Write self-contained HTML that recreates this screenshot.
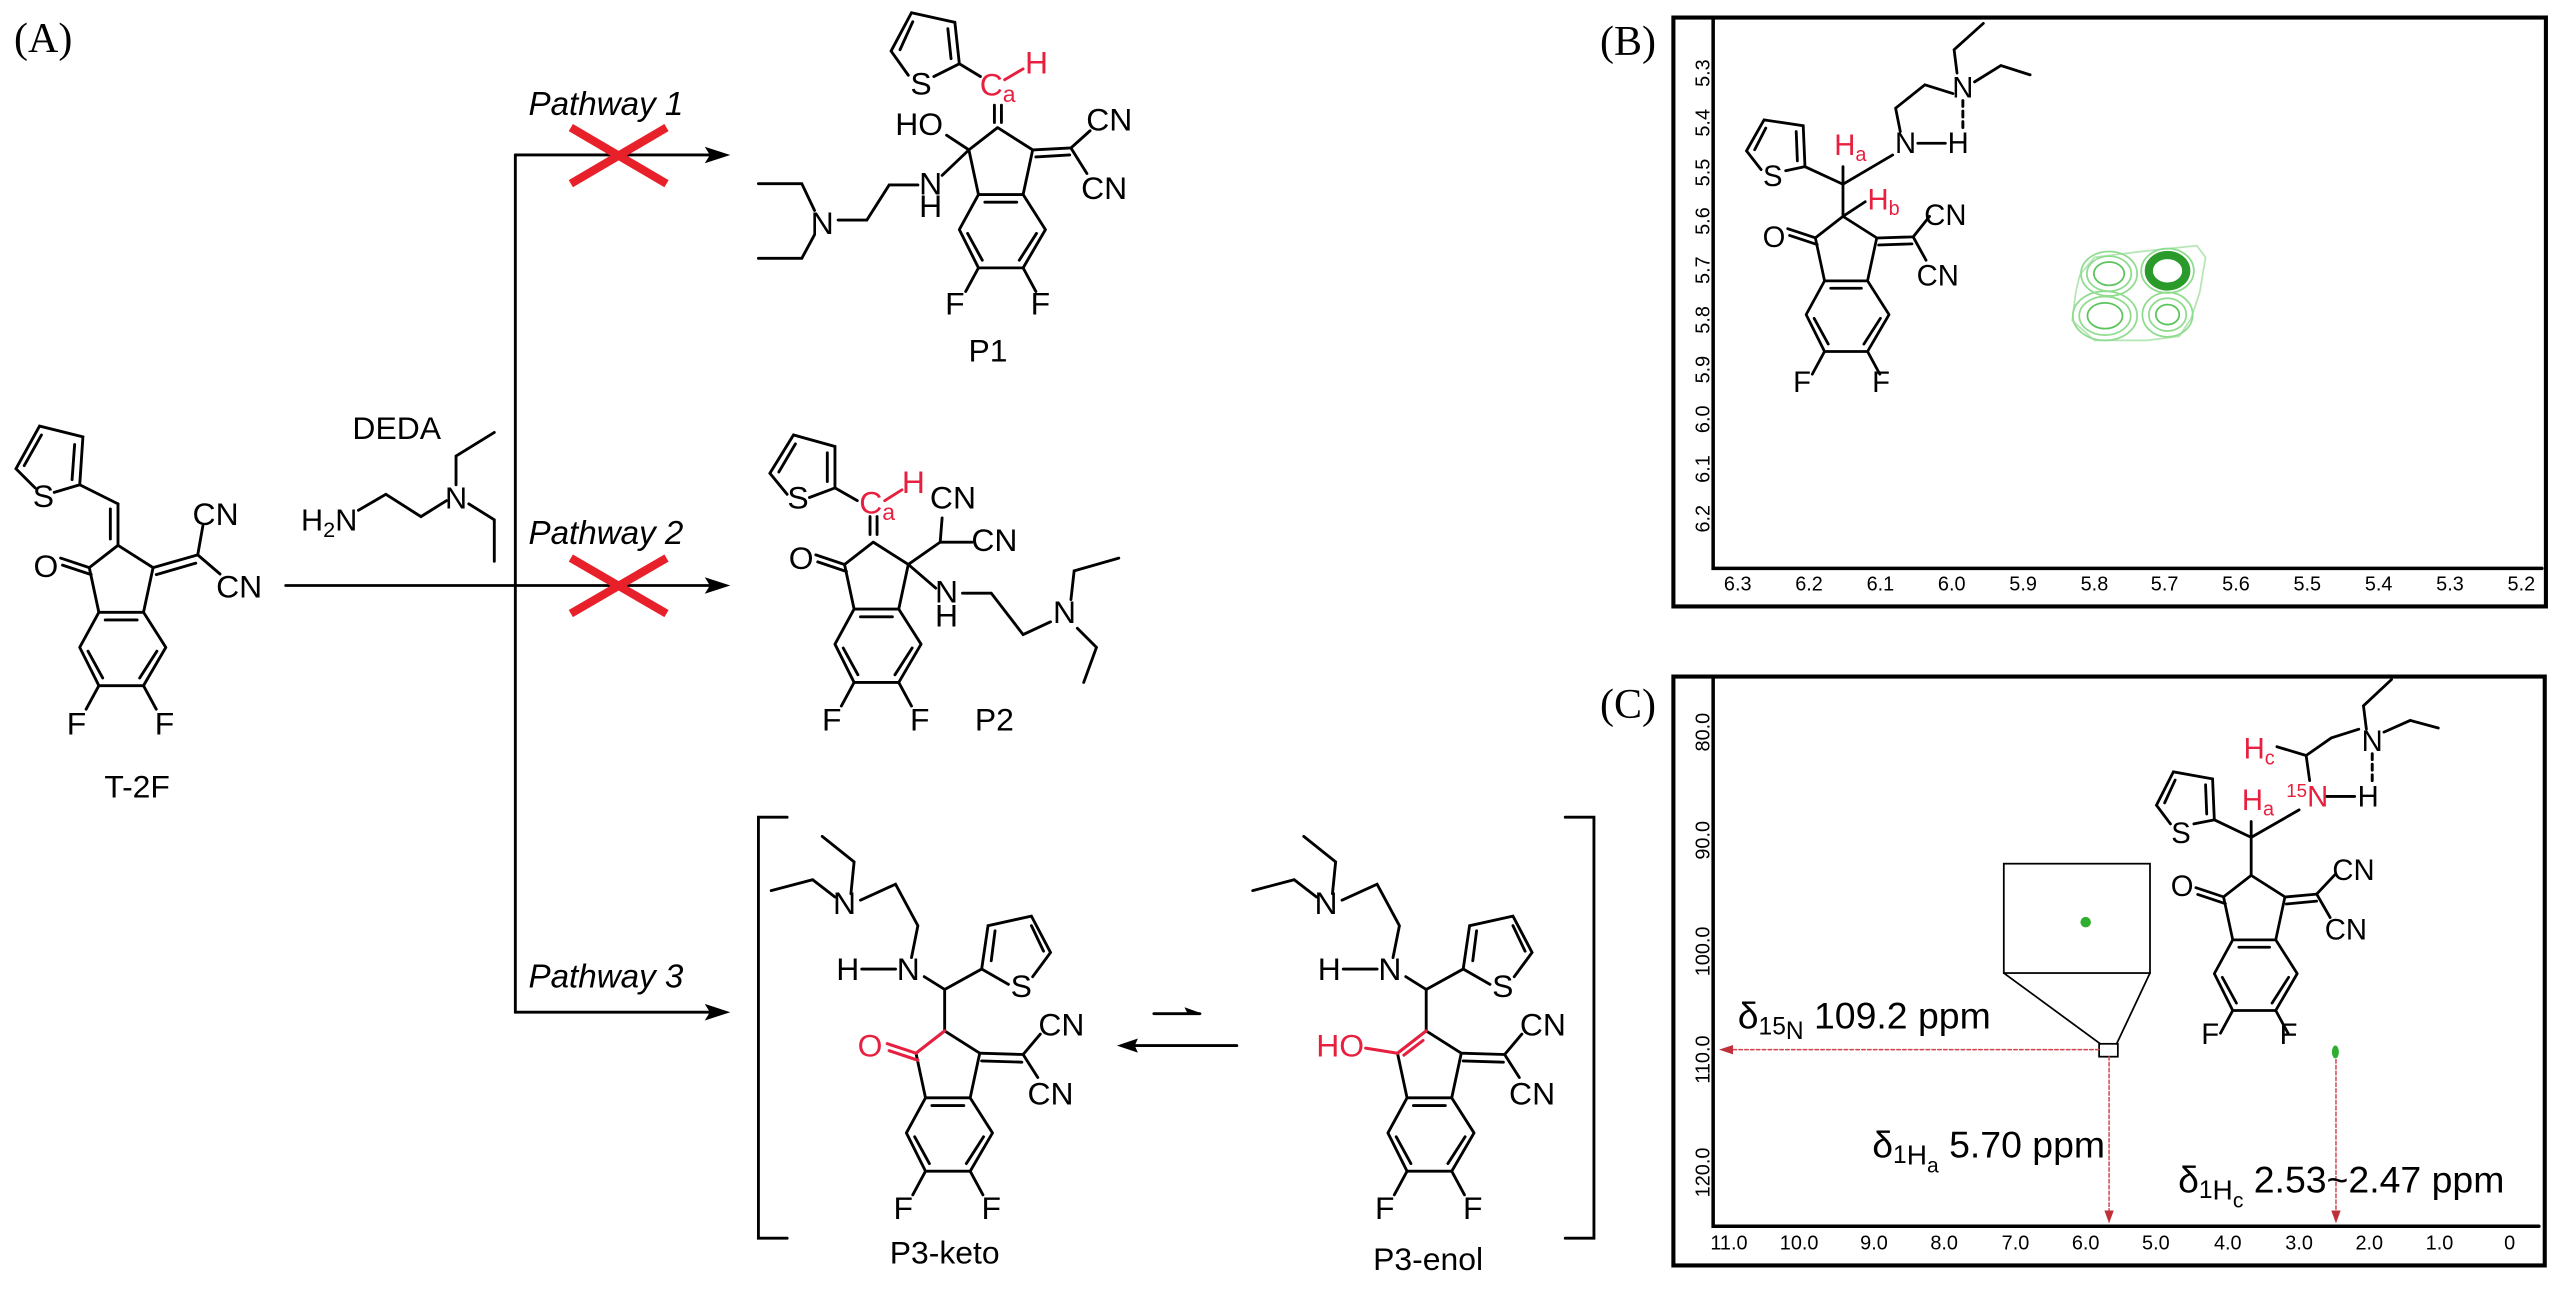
<!DOCTYPE html>
<html><head><meta charset="utf-8"><style>
html,body{margin:0;padding:0;background:#fff;}
svg{display:block;}
text{font-family:"Liberation Sans",Arial,sans-serif;}
</style></head><body>
<svg width="2567" height="1307" viewBox="0 0 2567 1307" xmlns="http://www.w3.org/2000/svg">
<defs>
 <g id="core" fill="none" stroke="#000" stroke-width="4.5" stroke-linejoin="round">
  <polyline points="-30,105 -45,35 0,0 55,35 40,105"/>
  <polygon points="-30,105 40,105 75,160 40,220 -30,220 -60,160"/>
  <line x1="-20" y1="117" x2="30" y2="117"/>
  <line x1="61" y1="166" x2="34" y2="208"/>
  <line x1="-24" y1="208" x2="-47" y2="166"/>
  <line x1="-30" y1="220" x2="-50" y2="257"/>
  <line x1="40" y1="220" x2="60" y2="257"/>
 </g>
 <g id="keto" fill="none" stroke="#000" stroke-width="4.5">
  <line x1="-45" y1="35" x2="-90" y2="20"/>
  <line x1="-42" y1="46" x2="-87" y2="31"/>
 </g>
</defs>

<text x="14" y="52" font-size="42" style="font-family:'Liberation Serif',serif">(A)</text>
<text x="1600" y="55" font-size="42" style="font-family:'Liberation Serif',serif">(B)</text>
<text x="1600" y="718" font-size="42" style="font-family:'Liberation Serif',serif">(C)</text>

<g transform="scale(0.6378)" stroke-linecap="round">
 <g fill="none" stroke="#000" stroke-width="4.5">
  <line x1="808" y1="243" x2="808" y2="1587"/>
  <line x1="808" y1="243" x2="1120" y2="243"/>
  <line x1="448" y1="918" x2="1120" y2="918"/>
  <line x1="808" y1="1587" x2="1120" y2="1587"/>
 </g>
 <g fill="#000">
  <polygon points="1145,243 1105,230 1113,243 1105,256"/>
  <polygon points="1145,918 1105,905 1113,918 1105,931"/>
  <polygon points="1145,1587 1105,1574 1113,1587 1105,1600"/>
 </g>
 <g stroke="#e8202a" stroke-width="13" stroke-linecap="butt">
  <line x1="895" y1="200" x2="1045" y2="288"/><line x1="895" y1="288" x2="1045" y2="200"/>
  <line x1="895" y1="875" x2="1045" y2="962"/><line x1="895" y1="962" x2="1045" y2="875"/>
 </g>
 <g font-size="52" font-style="italic" text-anchor="middle">
  <text x="950" y="180">Pathway 1</text>
  <text x="950" y="853">Pathway 2</text>
  <text x="950" y="1548">Pathway 3</text>
 </g>
 <text x="622" y="688" font-size="50" text-anchor="middle">DEDA</text>
 <text x="472" y="832" font-size="48">H<tspan font-size="34" dy="10">2</tspan><tspan dy="-10">N</tspan></text>
 <text x="715" y="797" font-size="48" text-anchor="middle">N</text>
 <g fill="none" stroke="#000" stroke-width="4.5">
  <polyline points="562,800 605,775 660,810 700,785"/>
  <polyline points="715,760 715,715 775,678"/>
  <polyline points="735,790 775,815 775,880"/>
 </g>
 <use href="#core" x="185" y="855"/>
 <use href="#keto" x="185" y="855"/>
 <g fill="none" stroke="#000" stroke-width="4.5">
  <polyline points="85,772 125,760 130,685 62,668 25,735 55,765"/>
  <line x1="113" y1="752" x2="117" y2="697"/>
  <line x1="65" y1="682" x2="38" y2="730"/>
  <line x1="125" y1="760" x2="185" y2="790"/>
  <line x1="185" y1="855" x2="185" y2="790"/>
  <line x1="173" y1="845" x2="173" y2="798"/>
  <line x1="240" y1="890" x2="310" y2="870"/>
  <line x1="245" y1="901" x2="307" y2="883"/>
  <line x1="310" y1="870" x2="318" y2="825"/>
  <line x1="310" y1="870" x2="345" y2="900"/>
 </g>
 <g font-size="50" text-anchor="middle">
  <text x="68" y="795">S</text>
  <text x="72" y="905">O</text>
  <text x="338" y="823">CN</text>
  <text x="375" y="937">CN</text>
  <text x="120" y="1152">F</text>
  <text x="258" y="1152">F</text>
  <text x="215" y="1250">T-2F</text>
 </g>
</g>

<g transform="translate(650,0) scale(0.6378)" stroke-linecap="round">
 <use href="#core" x="545" y="200"/>
 <g fill="none" stroke="#000" stroke-width="4.5">
  <polyline points="445,120 485,100 478,35 410,20 378,80 405,118"/>
  <line x1="472" y1="92" x2="467" y2="45"/>
  <line x1="412" y1="34" x2="392" y2="78"/>
  <line x1="485" y1="100" x2="518" y2="120"/>
  <line x1="540" y1="165" x2="540" y2="192"/>
  <line x1="551" y1="165" x2="551" y2="192"/>
  <line x1="500" y1="235" x2="465" y2="212"/>
  <line x1="500" y1="235" x2="458" y2="275"/>
  <polyline points="420,290 375,290 340,345 295,345"/>
  <polyline points="258,330 238,288 170,288"/>
  <polyline points="258,368 238,405 170,405"/>
  <line x1="600" y1="235" x2="660" y2="232"/>
  <line x1="605" y1="246" x2="658" y2="243"/>
  <line x1="660" y1="232" x2="690" y2="205"/>
  <line x1="660" y1="232" x2="685" y2="272"/>
 </g>
 <line x1="556" y1="125" x2="585" y2="108" stroke="#e8203f" stroke-width="4.5"/>
 <g font-size="50" text-anchor="middle">
  <text x="425" y="148">S</text>
  <text x="422" y="212">HO</text>
  <text x="440" y="305">N</text>
  <text x="440" y="340">H</text>
  <text x="270" y="367">N</text>
  <text x="720" y="205">CN</text>
  <text x="712" y="312">CN</text>
  <text x="478" y="493">F</text>
  <text x="612" y="493">F</text>
  <text x="530" y="567">P1</text>
 </g>
 <g fill="#e8203f" font-size="50">
  <text x="517" y="150">C<tspan font-size="36" dy="10">a</tspan></text>
  <text x="588" y="115">H</text>
 </g>
 <use href="#core" x="350" y="850"/>
 <use href="#keto" x="350" y="850"/>
 <g fill="none" stroke="#000" stroke-width="4.5">
  <polyline points="250,780 290,765 290,700 225,682 188,742 215,775"/>
  <line x1="278" y1="755" x2="278" y2="710"/>
  <line x1="228" y1="696" x2="202" y2="740"/>
  <line x1="290" y1="765" x2="325" y2="785"/>
  <line x1="345" y1="810" x2="345" y2="838"/>
  <line x1="356" y1="810" x2="356" y2="838"/>
  <polyline points="405,885 455,850 458,812"/>
  <line x1="455" y1="850" x2="505" y2="850"/>
  <line x1="405" y1="885" x2="448" y2="922"/>
  <polyline points="490,930 535,930 585,995 628,975"/>
  <polyline points="660,940 665,895 735,875"/>
  <polyline points="670,985 700,1015 680,1070"/>
 </g>
 <line x1="368" y1="785" x2="395" y2="768" stroke="#e8203f" stroke-width="4.5"/>
 <g font-size="50" text-anchor="middle">
  <text x="232" y="797">S</text>
  <text x="237" y="892">O</text>
  <text x="475" y="797">CN</text>
  <text x="540" y="864">CN</text>
  <text x="465" y="945">N</text>
  <text x="465" y="982">H</text>
  <text x="650" y="977">N</text>
  <text x="285" y="1145">F</text>
  <text x="423" y="1145">F</text>
  <text x="540" y="1145">P2</text>
 </g>
 <g fill="#e8203f" font-size="50">
  <text x="328" y="805">C<tspan font-size="36" dy="10">a</tspan></text>
  <text x="395" y="773">H</text>
 </g>
</g>

<g transform="translate(650,307) scale(0.6378)" stroke-linecap="round">
 <g fill="none" stroke="#000" stroke-width="4.5">
  <polyline points="215,800 170,800 170,1460 215,1460"/>
  <polyline points="1435,800 1480,800 1480,1460 1435,1460"/>
  <line x1="790" y1="1108" x2="862" y2="1108"/>
  <line x1="920" y1="1158" x2="740" y2="1158"/>
 </g>
 <polygon points="866,1108 838,1098 843,1108" fill="#000"/>
 <polygon points="732,1158 765,1147 760,1158 765,1169" fill="#000"/>
 <use href="#core" x="462" y="1135"/>
 <g fill="none" stroke="#000" stroke-width="4.5">
  <line x1="462" y1="1135" x2="462" y2="1070"/>
  <line x1="462" y1="1070" x2="430" y2="1050"/>
  <line x1="332" y1="1038" x2="385" y2="1038"/>
  <polyline points="462,1070 520,1038 530,970 598,955 628,1012 600,1050"/>
  <line x1="520" y1="1038" x2="562" y2="1062"/>
  <line x1="541" y1="978" x2="535" y2="1025"/>
  <line x1="598" y1="970" x2="617" y2="1010"/>
  <polyline points="410,1020 420,970 385,905 330,930"/>
  <polyline points="315,920 320,870 270,830"/>
  <polyline points="290,925 255,898 190,915"/>
  <line x1="517" y1="1170" x2="585" y2="1172"/>
  <line x1="520" y1="1182" x2="583" y2="1184"/>
  <line x1="585" y1="1172" x2="612" y2="1140"/>
  <line x1="585" y1="1172" x2="608" y2="1208"/>
 </g>
 <g fill="none" stroke="#e8203f" stroke-width="4.8">
  <line x1="462" y1="1135" x2="417" y2="1170"/>
  <line x1="417" y1="1170" x2="372" y2="1155"/>
  <line x1="420" y1="1181" x2="375" y2="1166"/>
 </g>
 <g font-size="50" text-anchor="middle">
  <text x="405" y="1055">N</text>
  <text x="310" y="1055">H</text>
  <text x="305" y="952">N</text>
  <text x="582" y="1082">S</text>
  <text x="645" y="1142">CN</text>
  <text x="628" y="1250">CN</text>
  <text x="397" y="1430">F</text>
  <text x="535" y="1430">F</text>
  <text x="462" y="1500">P3-keto</text>
 </g>
 <text x="345" y="1175" font-size="50" text-anchor="middle" fill="#e8203f">O</text>
 <use href="#core" x="1217" y="1135"/>
 <g fill="none" stroke="#000" stroke-width="4.5">
  <line x1="1217" y1="1135" x2="1217" y2="1070"/>
  <line x1="1217" y1="1070" x2="1185" y2="1050"/>
  <line x1="1087" y1="1038" x2="1140" y2="1038"/>
  <polyline points="1217,1070 1275,1038 1285,970 1353,955 1383,1012 1355,1050"/>
  <line x1="1275" y1="1038" x2="1317" y2="1062"/>
  <line x1="1296" y1="978" x2="1290" y2="1025"/>
  <line x1="1353" y1="970" x2="1372" y2="1010"/>
  <polyline points="1165,1020 1175,970 1140,905 1085,930"/>
  <polyline points="1070,920 1075,870 1025,830"/>
  <polyline points="1045,925 1010,898 945,915"/>
  <line x1="1272" y1="1170" x2="1340" y2="1172"/>
  <line x1="1275" y1="1182" x2="1338" y2="1184"/>
  <line x1="1340" y1="1172" x2="1367" y2="1140"/>
  <line x1="1340" y1="1172" x2="1363" y2="1208"/>
 </g>
 <g fill="none" stroke="#e8203f" stroke-width="4.8">
  <line x1="1217" y1="1135" x2="1172" y2="1170"/>
  <line x1="1212" y1="1150" x2="1182" y2="1173"/>
  <line x1="1172" y1="1170" x2="1122" y2="1162"/>
 </g>
 <g font-size="50" text-anchor="middle">
  <text x="1160" y="1055">N</text>
  <text x="1065" y="1055">H</text>
  <text x="1060" y="952">N</text>
  <text x="1337" y="1082">S</text>
  <text x="1400" y="1142">CN</text>
  <text x="1383" y="1250">CN</text>
  <text x="1152" y="1430">F</text>
  <text x="1290" y="1430">F</text>
  <text x="1220" y="1510">P3-enol</text>
 </g>
 <text x="1082" y="1175" font-size="50" text-anchor="middle" fill="#e8203f">HO</text>
</g>

<g transform="translate(1650,0) scale(0.5848)" stroke-linecap="round">
 <rect x="40" y="30" width="1492" height="1007" fill="none" stroke="#000" stroke-width="7"/>
 <polyline points="108,30 108,972 1525,972" fill="none" stroke="#000" stroke-width="6"/>
 <g font-size="34" text-anchor="middle">
  <text transform="translate(102,125) rotate(-90)">5.3</text>
  <text transform="translate(102,210) rotate(-90)">5.4</text>
  <text transform="translate(102,295) rotate(-90)">5.5</text>
  <text transform="translate(102,378) rotate(-90)">5.6</text>
  <text transform="translate(102,462) rotate(-90)">5.7</text>
  <text transform="translate(102,547) rotate(-90)">5.8</text>
  <text transform="translate(102,632) rotate(-90)">5.9</text>
  <text transform="translate(102,717) rotate(-90)">6.0</text>
  <text transform="translate(102,802) rotate(-90)">6.1</text>
  <text transform="translate(102,887) rotate(-90)">6.2</text>
  <text x="150" y="1010">6.3</text><text x="272" y="1010">6.2</text><text x="394" y="1010">6.1</text>
  <text x="516" y="1010">6.0</text><text x="638" y="1010">5.9</text><text x="760" y="1010">5.8</text>
  <text x="880" y="1010">5.7</text><text x="1002" y="1010">5.6</text><text x="1124" y="1010">5.5</text>
  <text x="1246" y="1010">5.4</text><text x="1368" y="1010">5.3</text><text x="1490" y="1010">5.2</text>
 </g>
 <g fill="none" stroke="#8fdc8f" stroke-width="3">
  <path d="M735,470 L760,440 L840,430 L935,420 L950,440 L940,500 L925,545 L905,575 L850,582 L760,582 L722,548 L728,500 Z" stroke="#b5e6b5"/>
  <ellipse cx="785" cy="468" rx="48" ry="38"/>
  <ellipse cx="785" cy="468" rx="38" ry="30"/>
  <ellipse cx="785" cy="468" rx="26" ry="20" stroke="#5cc45c"/>
  <ellipse cx="778" cy="540" rx="55" ry="42"/>
  <ellipse cx="778" cy="540" rx="44" ry="33"/>
  <ellipse cx="778" cy="540" rx="30" ry="22" stroke="#5cc45c"/>
  <ellipse cx="885" cy="538" rx="43" ry="38"/>
  <ellipse cx="885" cy="538" rx="32" ry="28"/>
  <ellipse cx="885" cy="538" rx="20" ry="17" stroke="#5cc45c"/>
  <ellipse cx="885" cy="463" rx="45" ry="38"/>
  <ellipse cx="885" cy="463" rx="32" ry="27" stroke="#2a9a2a" stroke-width="14"/>
 </g>
 <use href="#core" transform="translate(330,370) scale(1.05)"/>
 <use href="#keto" transform="translate(330,370) scale(1.05)"/>
 <g fill="none" stroke="#000" stroke-width="4.8">
  <polyline points="232,292 265,285 262,215 195,205 165,258 190,290"/>
  <line x1="252" y1="275" x2="250" y2="225"/>
  <line x1="198" y1="219" x2="179" y2="256"/>
  <line x1="265" y1="285" x2="330" y2="315"/>
  <line x1="330" y1="315" x2="330" y2="285"/>
  <line x1="330" y1="315" x2="415" y2="265"/>
  <line x1="330" y1="315" x2="330" y2="370"/>
  <line x1="333" y1="368" x2="368" y2="345"/>
  <line x1="458" y1="245" x2="505" y2="245"/>
  <polyline points="428,225 420,185 470,145 518,160"/>
  <polyline points="525,125 520,85 570,40"/>
  <polyline points="555,140 600,112 650,128"/>
  <line x1="388" y1="407" x2="450" y2="405"/>
  <line x1="391" y1="419" x2="448" y2="417"/>
  <line x1="450" y1="405" x2="478" y2="370"/>
  <line x1="450" y1="405" x2="472" y2="445"/>
 </g>
 <line x1="535" y1="172" x2="535" y2="222" stroke="#000" stroke-width="5" stroke-dasharray="10,8"/>
 <g font-size="50" text-anchor="middle">
  <text x="210" y="318">S</text>
  <text x="437" y="262">N</text>
  <text x="527" y="262">H</text>
  <text x="535" y="167">N</text>
  <text x="212" y="422">O</text>
  <text x="505" y="385">CN</text>
  <text x="492" y="488">CN</text>
  <text x="260" y="670">F</text>
  <text x="395" y="670">F</text>
 </g>
 <g fill="#e8203f" font-size="50">
  <text x="315" y="265">H<tspan font-size="34" dy="10">a</tspan></text>
  <text x="372" y="358">H<tspan font-size="34" dy="10">b</tspan></text>
 </g>
</g>

<g transform="translate(1650,390) scale(0.5848)" stroke-linecap="round">
 <rect x="40" y="490" width="1490" height="1007" fill="none" stroke="#000" stroke-width="7"/>
 <polyline points="108,490 108,1430 1520,1430" fill="none" stroke="#000" stroke-width="6"/>
 <g font-size="34" text-anchor="middle">
  <text transform="translate(102,585) rotate(-90)">80.0</text>
  <text transform="translate(102,770) rotate(-90)">90.0</text>
  <text transform="translate(102,960) rotate(-90)">100.0</text>
  <text transform="translate(102,1145) rotate(-90)">110.0</text>
  <text transform="translate(102,1338) rotate(-90)">120.0</text>
  <text x="135" y="1470">11.0</text><text x="255" y="1470">10.0</text><text x="383" y="1470">9.0</text>
  <text x="503" y="1470">8.0</text><text x="625" y="1470">7.0</text><text x="745" y="1470">6.0</text>
  <text x="865" y="1470">5.0</text><text x="988" y="1470">4.0</text><text x="1110" y="1470">3.0</text>
  <text x="1230" y="1470">2.0</text><text x="1350" y="1470">1.0</text><text x="1470" y="1470">0</text>
 </g>
 <g fill="none" stroke="#000" stroke-width="3">
  <rect x="605" y="810" width="250" height="187"/>
  <line x1="605" y1="997" x2="770" y2="1118"/>
  <line x1="855" y1="997" x2="798" y2="1118"/>
  <rect x="768" y="1118" width="32" height="22"/>
 </g>
 <circle cx="745" cy="910" r="9" fill="#2fae2f"/>
 <ellipse cx="1172" cy="1132" rx="6" ry="11" fill="#2fae2f"/>
 <g stroke="#d0434b" stroke-width="2.5" stroke-dasharray="6,4" fill="none">
  <line x1="768" y1="1128" x2="130" y2="1128"/>
  <line x1="785" y1="1140" x2="785" y2="1410"/>
  <line x1="1173" y1="1145" x2="1173" y2="1410"/>
 </g>
 <g fill="#c0303a">
  <polygon points="118,1128 142,1120 142,1136"/>
  <polygon points="785,1425 777,1403 793,1403"/>
  <polygon points="1173,1425 1165,1403 1181,1403"/>
 </g>
 <g font-size="64">
  <text x="150" y="1092">δ<tspan font-size="42" dy="10">15</tspan><tspan font-size="42" dy="8">N</tspan><tspan dy="-18"> 109.2 ppm</tspan></text>
  <text x="380" y="1312">δ<tspan font-size="42" dy="10">1</tspan><tspan font-size="48" dy="2">H</tspan><tspan font-size="36" dy="14">a</tspan><tspan dy="-26"> 5.70 ppm</tspan></text>
  <text x="903" y="1372">δ<tspan font-size="42" dy="10">1</tspan><tspan font-size="48" dy="2">H</tspan><tspan font-size="36" dy="14">c</tspan><tspan dy="-26"> 2.53~2.47 ppm</tspan></text>
 </g>
 <use href="#core" transform="translate(1028,830) scale(1.05)"/>
 <use href="#keto" transform="translate(1028,830) scale(1.05)"/>
 <g fill="none" stroke="#000" stroke-width="4.8">
  <polyline points="930,742 965,735 962,665 895,653 866,710 890,742"/>
  <line x1="952" y1="725" x2="950" y2="675"/>
  <line x1="898" y1="667" x2="880" y2="706"/>
  <line x1="965" y1="735" x2="1028" y2="765"/>
  <line x1="1028" y1="765" x2="1028" y2="738"/>
  <line x1="1028" y1="765" x2="1110" y2="718"/>
  <line x1="1028" y1="765" x2="1028" y2="830"/>
  <line x1="1155" y1="695" x2="1205" y2="695"/>
  <polyline points="1128,668 1122,625 1165,595 1212,580"/>
  <line x1="1072" y1="610" x2="1122" y2="625"/>
  <polyline points="1225,580 1220,540 1268,495"/>
  <polyline points="1255,585 1300,565 1348,578"/>
  <line x1="1086" y1="867" x2="1140" y2="862"/>
  <line x1="1088" y1="879" x2="1140" y2="874"/>
  <line x1="1140" y1="862" x2="1172" y2="828"/>
  <line x1="1140" y1="862" x2="1163" y2="902"/>
 </g>
 <line x1="1235" y1="622" x2="1235" y2="672" stroke="#000" stroke-width="5" stroke-dasharray="10,8"/>
 <g font-size="50" text-anchor="middle">
  <text x="908" y="775">S</text>
  <text x="1228" y="712">H</text>
  <text x="1235" y="617">N</text>
  <text x="910" y="865">O</text>
  <text x="1203" y="838">CN</text>
  <text x="1190" y="940">CN</text>
  <text x="958" y="1118">F</text>
  <text x="1092" y="1118">F</text>
 </g>
 <g fill="#e8203f" font-size="50">
  <text x="1012" y="718">H<tspan font-size="34" dy="10">a</tspan></text>
  <text x="1015" y="630">H<tspan font-size="34" dy="10">c</tspan></text>
  <text x="1088" y="712"><tspan font-size="32" dy="-16">15</tspan><tspan dy="16">N</tspan></text>
 </g>
</g>
</svg>
</body></html>
